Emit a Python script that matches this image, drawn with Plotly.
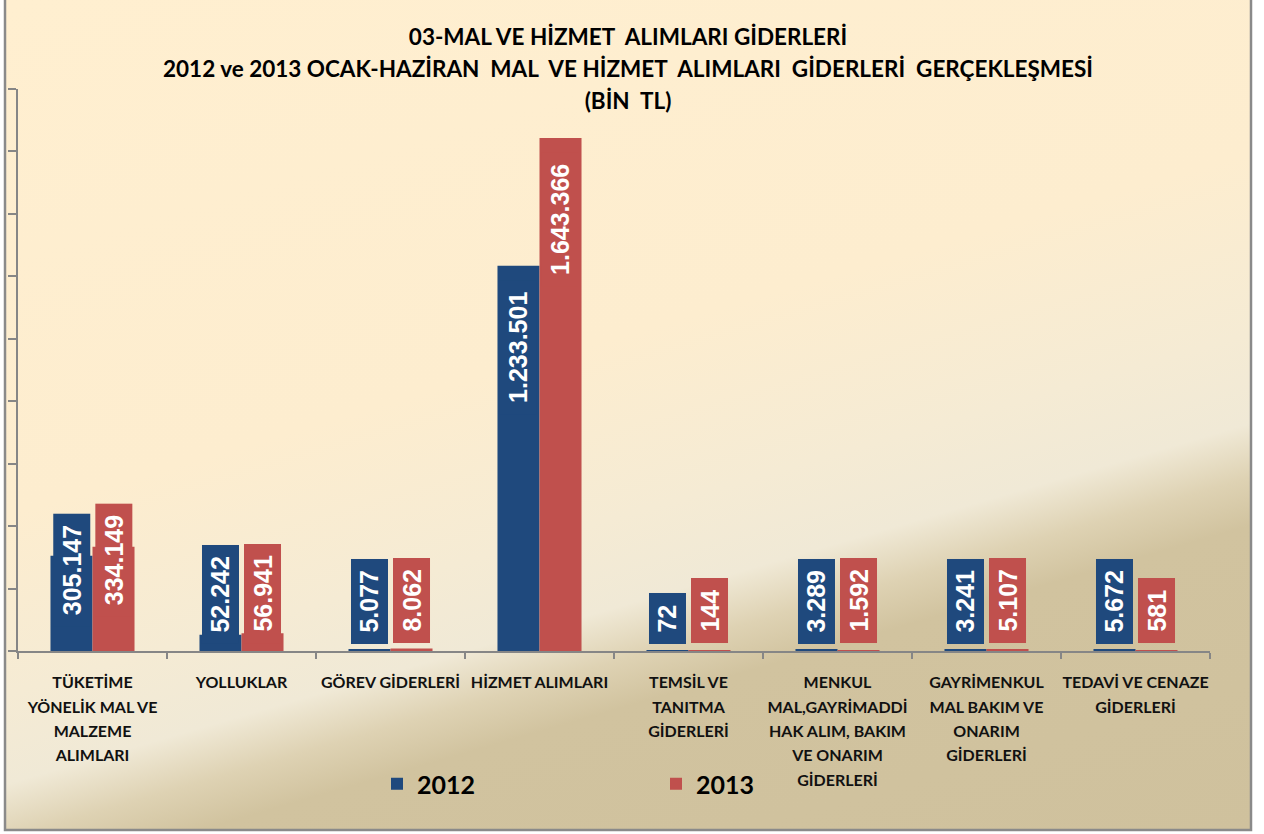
import base64
import plotly.graph_objects as go

# ---------------- data ----------------
categories = [
    "TÜKETİME YÖNELİK MAL VE MALZEME ALIMLARI",
    "YOLLUKLAR",
    "GÖREV GİDERLERİ",
    "HİZMET ALIMLARI",
    "TEMSİL VE TANITMA GİDERLERİ",
    "MENKUL MAL,GAYRİMADDİ HAK ALIM, BAKIM VE ONARIM GİDERLERİ",
    "GAYRİMENKUL MAL BAKIM VE ONARIM GİDERLERİ",
    "TEDAVİ VE CENAZE GİDERLERİ",
]
category_lines = [
    ["TÜKETİME", "YÖNELİK MAL VE", "MALZEME", "ALIMLARI"],
    ["YOLLUKLAR"],
    ["GÖREV GİDERLERİ"],
    ["HİZMET ALIMLARI"],
    ["TEMSİL VE", "TANITMA", "GİDERLERİ"],
    ["MENKUL", "MAL,GAYRİMADDİ", "HAK ALIM, BAKIM", "VE ONARIM", "GİDERLERİ"],
    ["GAYRİMENKUL", "MAL BAKIM VE", "ONARIM", "GİDERLERİ"],
    ["TEDAVİ VE CENAZE", "GİDERLERİ"],
]
values_2012 = [305147, 52242, 5077, 1233501, 72, 3289, 3241, 5672]
values_2013 = [334149, 56941, 8062, 1643366, 144, 1592, 5107, 581]
series_names = ["2012", "2013"]
series_colors = ["#1F497D", "#C0504D"]
title_lines = [
    "03-MAL VE HİZMET\u00a0 ALIMLARI GİDERLERİ",
    "2012 ve 2013 OCAK-HAZİRAN\u00a0 MAL\u00a0 VE HİZMET\u00a0 ALIMLARI\u00a0 GİDERLERİ\u00a0 GERÇEKLEŞMESİ",
    "(BİN\u00a0 TL)",
]
y_max = 1_800_000
y_dtick = 200_000

# ---------------- layout geometry ----------------
W, H = 1264, 834
ML, MR, MT, MB = 18, 54, 89, 183
PW, PH = W - ML - MR, H - MT - MB
BARGAP = 0.436


def px_to_paper_x(px):
    return (px - ML) / PW


def px_to_paper_y(py):
    return (H - MB - py) / PH


def fmt(v):
    return f"{v:,}".replace(",", ".")


# background: gradient chart area with gray frame, as an SVG image
svg = f"""<svg xmlns='http://www.w3.org/2000/svg' width='{W}' height='{H}' viewBox='0 0 {W} {H}' preserveAspectRatio='none'>
<defs>
<linearGradient id='g' gradientUnits='userSpaceOnUse' x1='0' y1='0' x2='{1107*0.29:.1f}' y2='1107'>
<stop offset='0' stop-color='#FFEFD0'/>
<stop offset='0.43' stop-color='#FDEDCF'/>
<stop offset='0.58' stop-color='#F5EBD4'/>
<stop offset='0.655' stop-color='#F0E9D6'/>
<stop offset='0.70' stop-color='#DED2B3'/>
<stop offset='0.74' stop-color='#D1C39F'/>
<stop offset='1' stop-color='#CFC19D'/>
</linearGradient>
</defs>
<rect x='0' y='0' width='{W}' height='{H}' fill='#FFFFFF'/>
<rect x='5' y='-5' width='1246' height='835' fill='url(#g)' stroke='#8A8A8A' stroke-width='2.5'/>
</svg>"""
svg_uri = "data:image/svg+xml;base64," + base64.b64encode(svg.encode("utf-8")).decode("ascii")

fig = go.Figure()
for name, vals, col in zip(series_names, [values_2012, values_2013], series_colors):
    fig.add_trace(go.Bar(
        x=categories, y=vals, name=name, marker=dict(color=col, line=dict(width=0)),
        hoverinfo="x+y",
    ))

# data labels (rotated, boxed)
LABEL_FS = 25
PAD = 4
cat_w = PW / len(categories)
bar_w = cat_w * (1 - BARGAP) / 2
for si, (vals, col) in enumerate(zip([values_2012, values_2013], series_colors)):
    offset = (si - 0.5) * bar_w
    for cat, v in zip(categories, vals):
        txt = fmt(v)
        text_len = (sum(0.278 if ch == "." else 0.556 for ch in txt) + 0.556) * LABEL_FS
        box_len = text_len + 2 * PAD
        bar_px = v / y_max * PH
        if bar_px >= box_len + 40:
            y, yanchor, yshift = v, "top", -14
        elif bar_px > 60:
            # label straddles the bar top
            y, yanchor, yshift = v, "middle", -14
        else:
            y, yanchor, yshift = 0, "bottom", 7
        fig.add_annotation(
            x=cat, y=y, xref="x", yref="y", xshift=offset, yshift=yshift,
            text=f"<b>\u00a0{txt}\u00a0</b>", textangle=-90, showarrow=False,
            xanchor="center", yanchor=yanchor,
            font=dict(family="Liberation Sans, Arial", size=LABEL_FS, color="#FFFFFF"),
            bgcolor=col, borderpad=PAD,
        )

# title
fig.add_annotation(
    xref="paper", yref="paper", x=px_to_paper_x(628), y=px_to_paper_y(21),
    xanchor="center", yanchor="top", showarrow=False,
    text="<br>".join(f"<span style='font-size:22.5px'><b>{t}</b></span>" for t in title_lines),
    font=dict(family="Lato", size=24.6, color="#000000"),
)

ticktext = [
    "<br>".join(f"<span style='font-size:16px'><b>{ln}</b></span>" for ln in lines)
    for lines in category_lines
]

fig.update_layout(
    width=W, height=H,
    margin=dict(l=ML, r=MR, t=MT, b=MB, autoexpand=False),
    paper_bgcolor="rgba(0,0,0,0)", plot_bgcolor="rgba(0,0,0,0)",
    barmode="group", bargap=BARGAP, bargroupgap=0,
    showlegend=True,
    legend=dict(
        orientation="h", xref="paper", yref="paper",
        x=px_to_paper_x(377), y=px_to_paper_y(784), xanchor="left", yanchor="middle",
        font=dict(family="Lato", size=25, color="#000000", weight="bold"),
        entrywidth=234, bgcolor="rgba(0,0,0,0)", traceorder="normal",
    ),
    images=[dict(
        source=svg_uri, xref="paper", yref="paper",
        x=px_to_paper_x(0), y=px_to_paper_y(0), sizex=W / PW, sizey=H / PH,
        xanchor="left", yanchor="top", sizing="stretch", layer="below",
    )],
    xaxis=dict(
        type="category", tickmode="array", tickvals=categories, ticktext=ticktext,
        tickson="boundaries", ticks="outside", ticklen=6, tickcolor="#868686", tickwidth=2,
        showline=True, linecolor="#868686", linewidth=2, showgrid=False,
        tickfont=dict(family="Lato", size=18.7, color="#111111"),
        ticklabelstandoff=13, tickangle=0, fixedrange=True,
    ),
    yaxis=dict(
        range=[0, y_max], dtick=y_dtick, tick0=0, showticklabels=False,
        ticks="outside", ticklen=8, tickcolor="#868686", tickwidth=2,
        showline=True, linecolor="#868686", linewidth=2, showgrid=False,
        zeroline=False, fixedrange=True,
    ),
)

fig.write_html(
    "out.html",
    config={"displayModeBar": False},
    post_script="document.body.style.margin='0';document.body.style.overflow='hidden';",
)
